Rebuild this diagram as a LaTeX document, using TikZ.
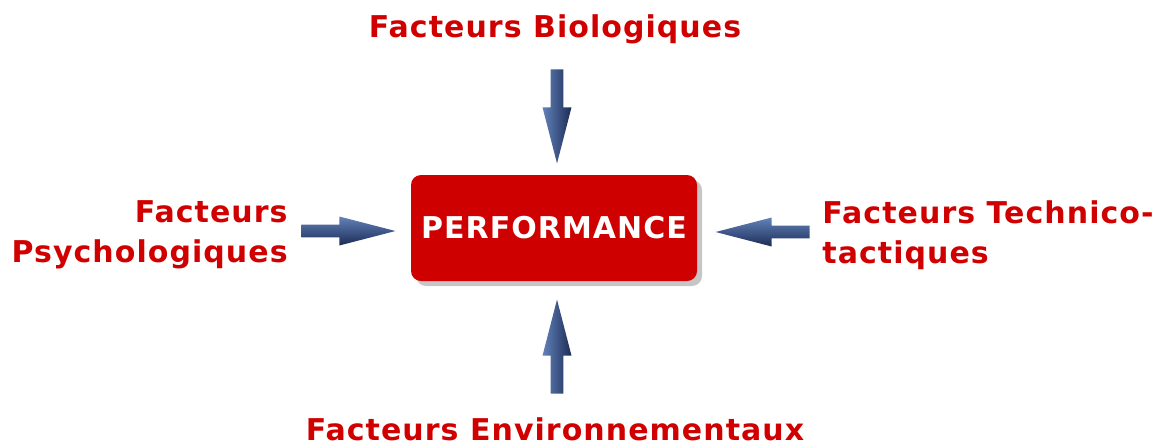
\documentclass[tikz,border=0pt]{standalone}
\usepackage{fontspec}
\setmainfont{DejaVu Sans}[LetterSpace=3.5]
\usetikzlibrary{positioning}
\usetikzlibrary{shapes.arrows}
\usetikzlibrary{shadows}

\definecolor{factorred}{HTML}{D00000}
\definecolor{perfred}{HTML}{CE0000}
\definecolor{arrowlight}{HTML}{6283BA}
\definecolor{arrowdark}{HTML}{1C2B55}

\tikzset{
factor/.style={text=factorred, font=\bfseries\fontsize{15pt}{20pt}\selectfont, inner sep=0pt},
perfbox/.style={rectangle, rounded corners=5pt, fill=perfred, minimum width=143pt, minimum height=53pt,
  text=white, font=\bfseries\fontsize{15pt}{18pt}\selectfont,
  drop shadow={shadow xshift=2.5pt, shadow yshift=-2.5pt, fill=black!50, opacity=0.45}},
blockarrow/.style={single arrow, draw=none, inner sep=3pt, minimum height=47pt, minimum width=14.5pt,
  single arrow head extend=4pt, single arrow tip angle=29, anchor=tip},
horarrow/.style={blockarrow, top color=arrowlight, bottom color=arrowdark},
verarrow/.style={blockarrow, left color=arrowlight, right color=arrowdark}
}

\begin{document}
\begin{tikzpicture}[x=0.5pt, y=-0.5pt]
\useasboundingbox (0,0) rectangle (1170,445);

% centre
\node[perfbox] (perf) at (554,228) {PERFORMANCE};

% arrows
\node[verarrow, shape border rotate=270] (arrbio) at (557,165) {};
\node[verarrow, shape border rotate=90] (arrenv) at (557,298) {};
\node[horarrow] (arrpsy) at (397,231) {};
\node[horarrow, shape border rotate=180] (arrtec) at (714,232) {};

% labels
\node[factor, anchor=base] (bio) at (555,37) {Facteurs Biologiques};
\node[factor, anchor=base] (env) at (555,440) {Facteurs Environnementaux};
\node[factor, align=right, anchor=north east] (psy) at (288,200) {Facteurs\\Psychologiques};
\node[factor, align=left, anchor=north west] (tec) at (822,200) {Facteurs Technico-\\tactiques};
\end{tikzpicture}
\end{document}
